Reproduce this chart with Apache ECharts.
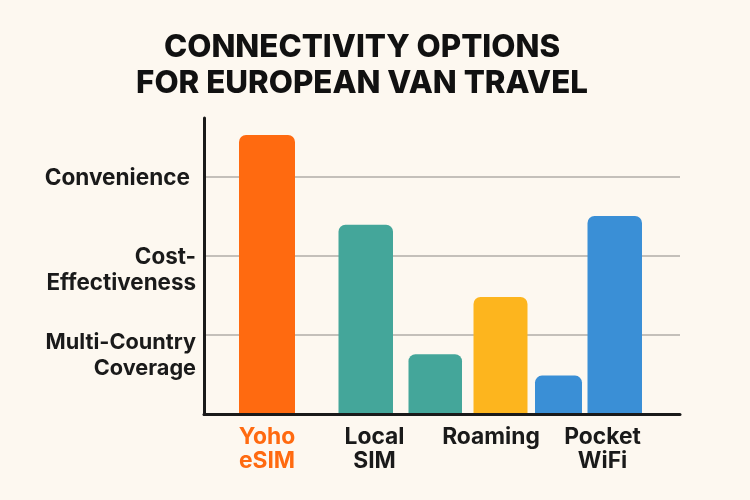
<!DOCTYPE html>
<html>
<head>
<meta charset="utf-8">
<title>Connectivity options</title>
<script src="https://cdn.jsdelivr.net/npm/echarts@6/dist/echarts.min.js"></script>
<style>
  html, body { margin: 0; padding: 0; background: #fdf8f0; }
  #chart-container { width: 750px; height: 500px; }
</style>
</head>
<body>
<div id="chart-container"></div>
<script>
// bar heights on the rating scale (gridlines at 1, 2, 3)
var barValues = [3.52, 2.39, 0.76, 1.48, 0.49, 2.5];
var barColors = ['#ff6a10', '#44a69a', '#44a69a', '#fdb51e', '#3a8fd6', '#3a8fd6'];

// where each bar sits on the hidden x scale
var barStart = [35, 134.5, 204.5, 269.5, 331, 383.5];
var barEnd = [91, 189, 258, 323.5, 378, 438];

var groupLabels = ['{o|Yoho\neSIM}', '{d|Local\nSIM}', '{d|Roaming}', '{d|Pocket\nWiFi}'];
var groupPos = [63, 170.5, 287, 398.5];

var ratingLabels = ['{m|Multi-Country\nCoverage}', '{e|Cost-\nEffectiveness}', '{c|Convenience}'];
var ratingLabelPos = [0.745, 1.815, 2.98];
var gridValues = [1, 2, 3];

var fontName = 'Inter';
var dom = document.getElementById('chart-container');
var myChart = echarts.init(dom);

var barData = barValues.map(function (v, i) {
  return [barStart[i], barEnd[i], v, i];
});

var option = {
  animation: false,
  backgroundColor: '#fdf8f0',
  title: {
    text: 'CONNECTIVITY OPTIONS\nFOR EUROPEAN VAN TRAVEL',
    left: 357,
    top: 25,
    textAlign: 'center',
    textStyle: {
      fontFamily: fontName,
      fontWeight: 800,
      fontSize: 31.3,
      lineHeight: 36,
      color: '#111111'
    }
  },
  grid: { left: 204, right: 70, top: 118, bottom: 85.5 },
  xAxis: {
    type: 'value',
    min: 0,
    max: 476,
    z: 3,
    splitLine: { show: false },
    axisLine: { show: true, onZero: false, lineStyle: { color: '#1a1a1a', width: 3 } },
    axisTick: { show: false },
    axisLabel: {
      customValues: groupPos,
      hideOverlap: false,
      margin: 11,
      verticalAlign: 'top',
      formatter: function (value) {
        return groupLabels[groupPos.indexOf(value)];
      },
      rich: {
        o: { fontFamily: fontName, fontWeight: 700, fontSize: 22.8, lineHeight: 24, color: '#ff6a10' },
        d: { fontFamily: fontName, fontWeight: 700, fontSize: 22.8, lineHeight: 24, color: '#1a1a1a' }
      }
    }
  },
  yAxis: {
    type: 'value',
    min: 0,
    max: 3.734,
    splitLine: { show: true, lineStyle: { color: '#c4c0ba', width: 2 } },
    axisLine: { show: true, lineStyle: { color: '#1a1a1a', width: 3 } },
    axisTick: { show: false, customValues: gridValues },
    axisLabel: {
      customValues: ratingLabelPos,
      margin: 8,
      align: 'right',
      formatter: function (value) {
        return ratingLabels[ratingLabelPos.indexOf(value)];
      },
      rich: {
        m: { fontFamily: fontName, fontWeight: 700, fontSize: 21.7, lineHeight: 26, color: '#1a1a1a', align: 'right' },
        e: { fontFamily: fontName, fontWeight: 700, fontSize: 22.4, lineHeight: 26, color: '#1a1a1a', align: 'right' },
        c: { fontFamily: fontName, fontWeight: 700, fontSize: 22.6, lineHeight: 26, color: '#1a1a1a', align: 'right', padding: [0, 6, 0, 0] }
      }
    }
  },
  series: [
    {
      type: 'custom',
      clip: false,
      data: barData,
      encode: { x: [0, 1], y: 2 },
      renderItem: function (params, api) {
        var leftTop = api.coord([api.value(0), api.value(2)]);
        var rightBottom = api.coord([api.value(1), 0]);
        return {
          type: 'rect',
          shape: {
            x: leftTop[0],
            y: leftTop[1],
            width: rightBottom[0] - leftTop[0],
            height: rightBottom[1] - leftTop[1],
            r: [7, 7, 0, 0]
          },
          style: { fill: barColors[api.value(3)] }
        };
      }
    }
  ]
};

myChart.setOption(option);
window.addEventListener('resize', myChart.resize);
</script>
</body>
</html>
